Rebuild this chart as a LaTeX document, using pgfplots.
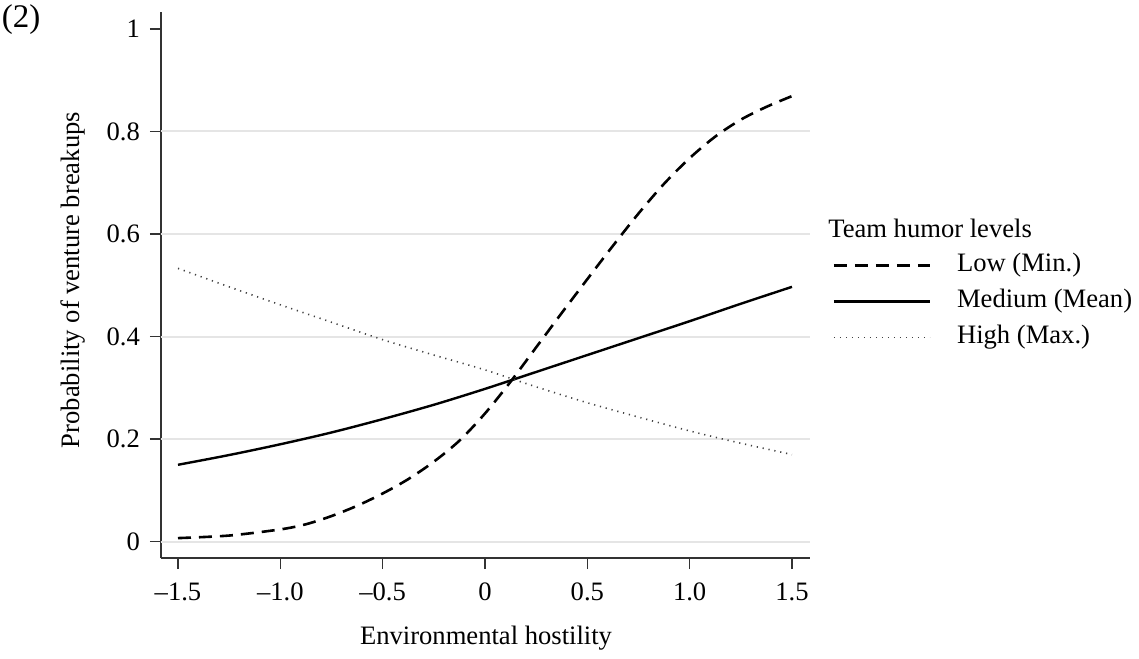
\documentclass[border=0pt]{standalone}
\usepackage{fontspec}
\setmainfont{Liberation Serif}
\usepackage{pgfplots}
\pgfplotsset{compat=1.18}
\newcommand{\chartfont}{\fontsize{13.3}{16}\selectfont}
\begin{document}
\begin{tikzpicture}
\begin{axis}[
  name=ax,
  width=324.5pt, height=273pt, scale only axis,
  xmin=-1.583, xmax=1.588, ymin=-0.0318, ymax=1.033,
  clip=false,
  axis x line=bottom, axis y line=left,
  axis line style={-, line width=1pt, black!80},
  tick align=outside, major tick length=5.5pt,
  tick style={line width=0.8pt, black!80},
  xtick={-1.5,-1,-0.5,0,0.5,1,1.5},
  xticklabels={–1.5,–1.0,–0.5,0,0.5,1.0,1.5},
  ytick={0,0.2,0.4,0.6,0.8,1},
  yticklabels={0,0.2,0.4,0.6,0.8,1},
  extra y ticks={0,0.2,0.4,0.6,0.8},
  extra y tick labels={},
  extra y tick style={grid=major, major tick length=0pt, major grid style={line width=1pt, black!10}},
  tick label style={font=\chartfont},
  xticklabel style={yshift=-3.5pt},
  yticklabel style={xshift=-1.5pt},
  label style={font=\chartfont},
  xlabel={Environmental hostility},
  ylabel={Probability of venture breakups},
  xlabel style={at={(axis description cs:0.5008,-0.1465)}, anchor=center},
  ylabel style={at={(axis description cs:-0.1356,0.509)}, anchor=center},
  legend style={draw=none, fill=none, at={(1.034,0.5595)}, anchor=north west,
    inner sep=0pt, row sep=5.5pt, column sep=13pt, font=\chartfont,
    cells={anchor=west}, nodes={inner sep=0pt, text height=9.5pt, text depth=3pt}},
  legend image code/.code={\draw[#1] (0pt,0pt) -- (48pt,0pt);},
]
\addplot[black, line width=1.3pt, dash pattern=on 6.5pt off 4pt, smooth] coordinates {
(-1.5,0.007) (-1.25,0.012) (-1.0,0.024) (-0.875,0.034) (-0.75,0.050) (-0.625,0.070)
(-0.5,0.094) (-0.375,0.122) (-0.25,0.156) (-0.125,0.197) (0,0.250) (0.125,0.312)
(0.25,0.379) (0.375,0.446) (0.5,0.512) (0.625,0.577) (0.75,0.640) (0.875,0.698)
(1.0,0.748) (1.125,0.790) (1.25,0.823) (1.375,0.848) (1.5,0.869)};
\addlegendentry{Low (Min.)}
\addplot[black, line width=1.2pt, smooth] coordinates {
(-1.5,0.150) (-1.25,0.169) (-1.0,0.190) (-0.75,0.213) (-0.5,0.239) (-0.25,0.267)
(0,0.298) (0.25,0.331) (0.5,0.364) (0.75,0.397) (1.0,0.430) (1.25,0.464) (1.5,0.497)};
\addlegendentry{Medium (Mean)}
\addplot[black!75, line width=0.8pt, dash pattern=on 0.6pt off 2.4pt, smooth] coordinates {
(-1.5,0.533) (-1.25,0.497) (-1.0,0.462) (-0.75,0.428) (-0.5,0.394) (-0.25,0.364)
(0,0.335) (0.25,0.302) (0.5,0.271) (0.75,0.243) (1.0,0.216) (1.25,0.192) (1.5,0.170)};
\addlegendentry{High (Max.)}
\node[anchor=west, font=\chartfont, inner sep=0pt] at (axis description cs:1.0277,0.6044) {Team humor levels};
\node[font=\fontsize{16.5}{19}\selectfont, inner sep=0pt] at (axis description cs:-0.2157,0.987) {(2)};
\end{axis}
\path ([shift={(-80.5pt,-50pt)}]ax.south west) rectangle ([shift={(164.5pt,6pt)}]ax.north east);
\end{tikzpicture}
\end{document}
